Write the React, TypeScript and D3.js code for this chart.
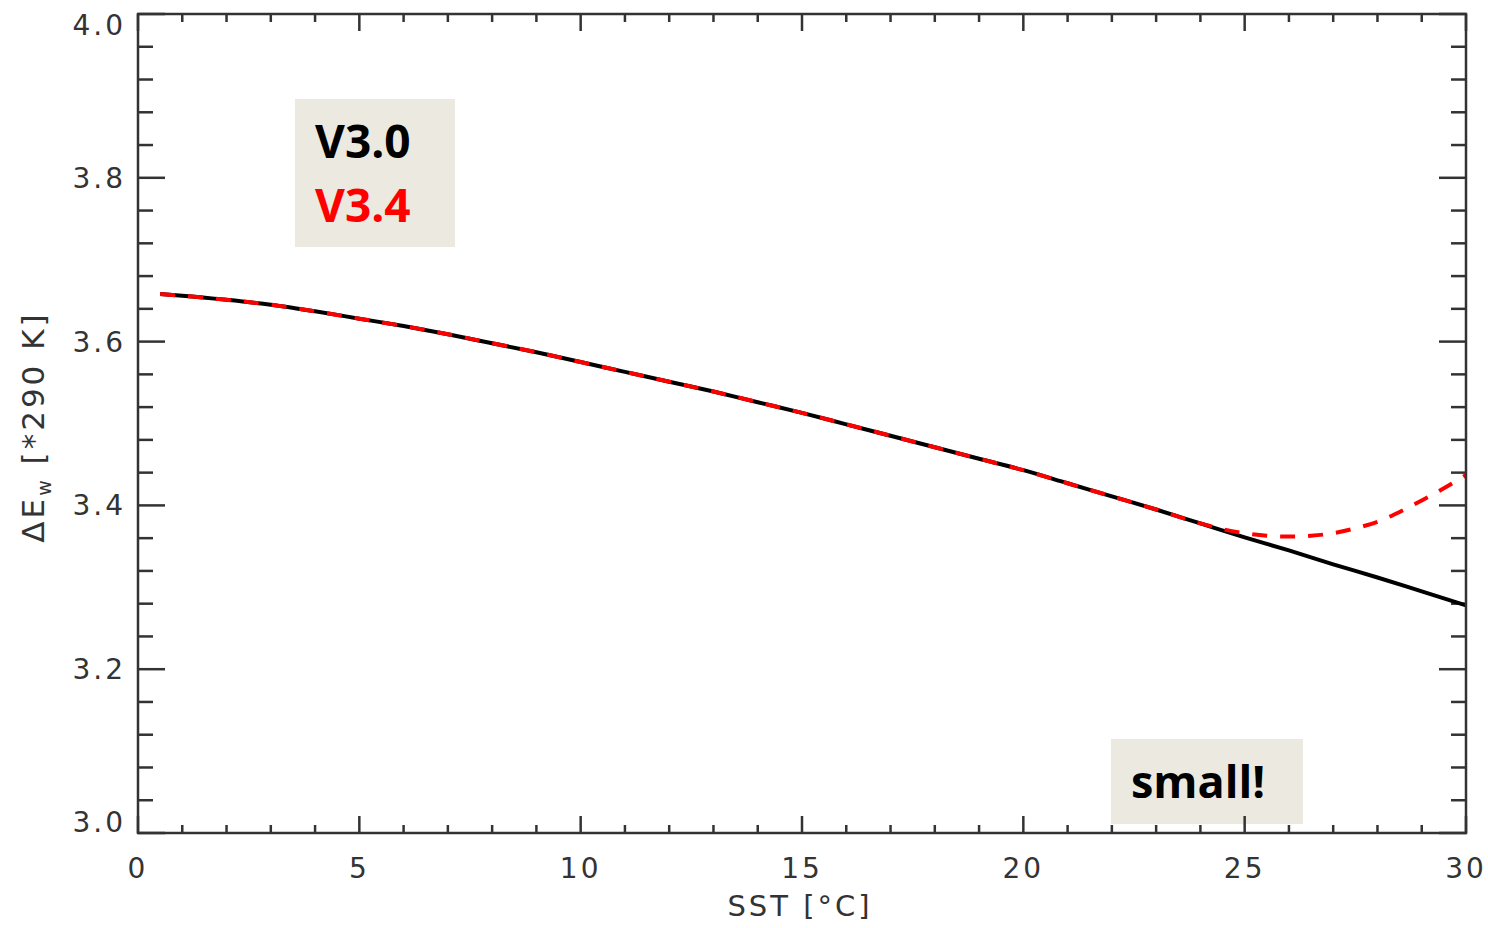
import React, { useRef, useEffect } from 'react';
import * as d3 from 'd3';

// SST [°C] and ΔE_w values
const sstV30 = [0.5, 1, 2, 3, 4, 5, 6, 7, 8, 9, 10, 11, 12, 13, 14, 15, 16, 17, 18, 19, 20, 21, 22, 23, 24, 25, 26, 27, 28, 29, 30];
const deV30 = [3.658, 3.656, 3.651, 3.645, 3.637, 3.628, 3.619, 3.609, 3.598, 3.587, 3.575, 3.563, 3.551, 3.539, 3.526, 3.513, 3.499, 3.485, 3.471, 3.457, 3.443, 3.427, 3.411, 3.395, 3.378, 3.361, 3.345, 3.328, 3.312, 3.295, 3.278];

const sstV34 = [0.5, 1, 2, 3, 4, 5, 6, 7, 8, 9, 10, 11, 12, 13, 14, 15, 16, 17, 18, 19, 20, 21, 22, 23, 24, 24.5, 25, 25.5, 26, 26.5, 27, 27.5, 28, 28.5, 29, 29.5, 30];
const deV34 = [3.658, 3.656, 3.651, 3.645, 3.637, 3.628, 3.619, 3.609, 3.598, 3.587, 3.575, 3.563, 3.551, 3.539, 3.526, 3.513, 3.499, 3.485, 3.471, 3.457, 3.443, 3.427, 3.411, 3.395, 3.378, 3.371, 3.366, 3.363, 3.362, 3.363, 3.366, 3.372, 3.380, 3.392, 3.406, 3.421, 3.437];

const xTicks = [0, 5, 10, 15, 20, 25, 30];
const yTicks = [3.0, 3.2, 3.4, 3.6, 3.8, 4.0];

const App = () => {
  const svgRef = useRef<SVGSVGElement>(null);

  useEffect(() => {
    const width = 1488;
    const height = 928;
    const left = 138, right = 1466, top = 14, bottom = 833;
    const axisColor = '#333';
    const labelFont = '"DejaVu Sans", sans-serif';

    const svg = d3.select(svgRef.current);
    svg.selectAll('*').remove();
    svg.attr('width', width).attr('height', height);

    const x = d3.scaleLinear().domain([0, 30]).range([left, right]);
    const y = d3.scaleLinear().domain([3.0, 4.0]).range([bottom, top]);

    // annotation boxes
    svg.append('rect')
      .attr('x', 295).attr('y', 99).attr('width', 160).attr('height', 148)
      .attr('fill', '#ECEAE0');
    svg.append('rect')
      .attr('x', 1111).attr('y', 739).attr('width', 192).attr('height', 85)
      .attr('fill', '#ECEAE0');

    // ticks (IDL style, all four sides, pointing inward)
    const ticks = svg.append('g').attr('stroke', axisColor).attr('stroke-width', 2.5);
    const xMinor = d3.range(0, 31, 1);
    xMinor.forEach(v => {
      const major = v % 5 === 0;
      const len = major ? 17 : 8;
      ticks.append('line').attr('x1', x(v)).attr('x2', x(v)).attr('y1', bottom).attr('y2', bottom - len);
      ticks.append('line').attr('x1', x(v)).attr('x2', x(v)).attr('y1', top).attr('y2', top + len);
    });
    const yMinor = d3.range(0, 26).map(i => 3.0 + i * 0.04);
    yMinor.forEach((v, i) => {
      const major = i % 5 === 0;
      const len = major ? 27 : 15;
      ticks.append('line').attr('x1', left).attr('x2', left + len).attr('y1', y(v)).attr('y2', y(v));
      ticks.append('line').attr('x1', right).attr('x2', right - len).attr('y1', y(v)).attr('y2', y(v));
    });

    // lines
    const line = d3.line<[number, number]>()
      .x(d => x(d[0]))
      .y(d => y(d[1]))
      .curve(d3.curveMonotoneX);

    svg.append('path')
      .datum(sstV30.map((s, i) => [s, deV30[i]] as [number, number]))
      .attr('fill', 'none')
      .attr('stroke', '#000')
      .attr('stroke-width', 4)
      .attr('d', line);

    svg.append('path')
      .datum(sstV34.map((s, i) => [s, deV34[i]] as [number, number]))
      .attr('fill', 'none')
      .attr('stroke', '#ff0000')
      .attr('stroke-width', 4)
      .attr('stroke-dasharray', '15 13')
      .attr('d', line);

    // frame
    svg.append('rect')
      .attr('x', left).attr('y', top)
      .attr('width', right - left).attr('height', bottom - top)
      .attr('fill', 'none').attr('stroke', axisColor).attr('stroke-width', 2.5);

    // tick labels
    svg.append('g')
      .selectAll('text')
      .data(xTicks)
      .join('text')
      .attr('x', d => x(d))
      .attr('y', 878)
      .attr('text-anchor', 'middle')
      .attr('font-family', labelFont)
      .attr('font-size', 28)
      .attr('letter-spacing', 3)
      .attr('fill', axisColor)
      .text(d => d);

    // end labels are pulled inside the frame, as IDL does
    svg.append('g')
      .selectAll('text')
      .data(yTicks)
      .join('text')
      .attr('x', 126)
      .attr('y', d => Math.min(bottom - 11, Math.max(top + 11, y(d))) + 10)
      .attr('text-anchor', 'end')
      .attr('font-family', labelFont)
      .attr('font-size', 28)
      .attr('letter-spacing', 3)
      .attr('fill', axisColor)
      .text(d => d.toFixed(1));

    // axis titles
    svg.append('text')
      .attr('x', 800)
      .attr('y', 916)
      .attr('text-anchor', 'middle')
      .attr('font-family', labelFont)
      .attr('font-size', 29)
      .attr('letter-spacing', 3)
      .attr('fill', axisColor)
      .text('SST [°C]');

    const yTitle = svg.append('text')
      .attr('transform', 'translate(44,427) rotate(-90)')
      .attr('text-anchor', 'middle')
      .attr('font-family', labelFont)
      .attr('font-size', 31)
      .attr('letter-spacing', 3)
      .attr('fill', axisColor);
    yTitle.append('tspan').text('ΔE');
    yTitle.append('tspan').attr('font-size', 19).attr('dy', 7).text('w');
    yTitle.append('tspan').attr('dy', -7).text(' [*290 K]');

    // annotations
    const boldFont = '"Open Sans", sans-serif';
    svg.append('text')
      .attr('x', 315).attr('y', 158)
      .attr('font-family', boldFont).attr('font-weight', 700).attr('font-size', 46)
      .attr('fill', '#000')
      .text('V3.0');
    svg.append('text')
      .attr('x', 315).attr('y', 222)
      .attr('font-family', boldFont).attr('font-weight', 700).attr('font-size', 46)
      .attr('fill', '#ff0000')
      .text('V3.4');
    svg.append('text')
      .attr('x', 1131).attr('y', 798)
      .attr('font-family', boldFont).attr('font-weight', 700).attr('font-size', 45)
      .attr('fill', '#000')
      .text('small!');
  }, []);

  return (
    <div style={{ position: 'absolute', left: 0, top: 0, background: '#fff' }}>
      <svg ref={svgRef} style={{ display: 'block' }}></svg>
    </div>
  );
};

export default App;
